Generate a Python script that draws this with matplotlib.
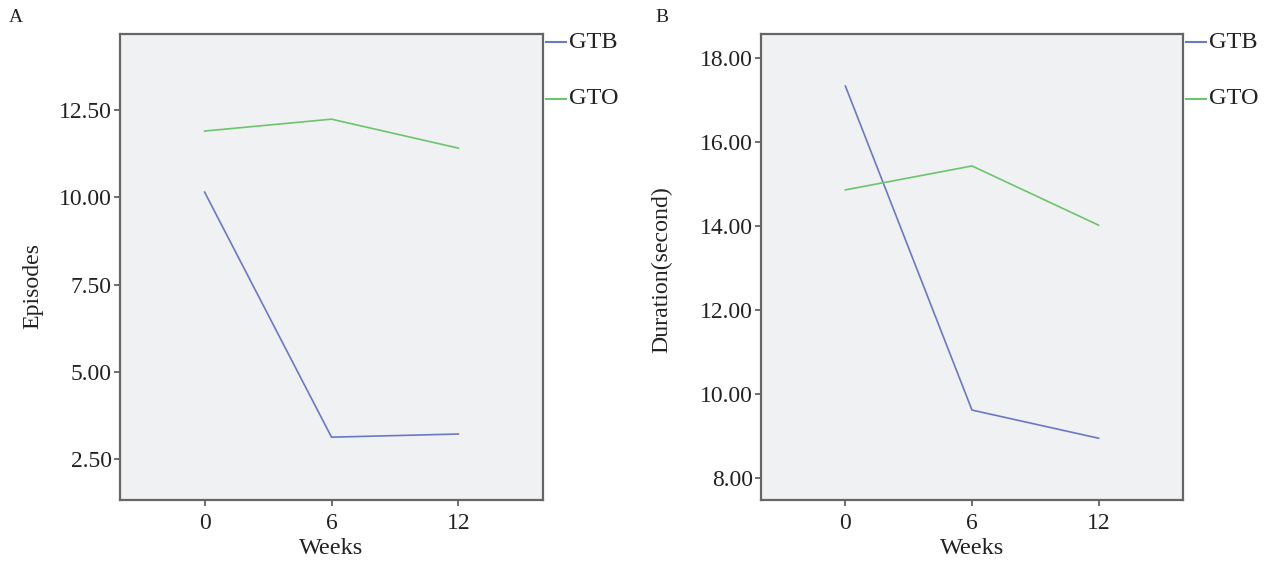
import matplotlib
matplotlib.use("Agg")
import matplotlib.pyplot as plt
from matplotlib.lines import Line2D
from matplotlib.transforms import blended_transform_factory

weeks = [0, 6, 12]
week_labels = ["0", "6", "12"]
series = ["GTB", "GTO"]
episodes_gtb = [10.15, 3.13, 3.22]
episodes_gto = [11.90, 12.24, 11.41]
duration_gtb = [17.33, 9.62, 8.95]
duration_gto = [14.86, 15.43, 14.02]
yticks_a = [2.5, 5.0, 7.5, 10.0, 12.5]
yticks_b = [8.0, 10.0, 12.0, 14.0, 16.0, 18.0]

plt.rcParams['font.family'] = ['Liberation Serif', 'DejaVu Serif']
colors = {"GTB": "#6a78c6", "GTO": "#6cc46e"}

W, H = 1266, 562
fig = plt.figure(figsize=(W / 100, H / 100), dpi=100)

def px_axes(l, t, r, b):
    return fig.add_axes([l / W, 1 - b / H, (r - l) / W, (b - t) / H])

axA = px_axes(120, 34, 543, 500)
axB = px_axes(761, 34, 1183, 500)

panels = [
    (axA, episodes_gtb, episodes_gto, yticks_a, (1.33, 14.68), "Episodes", "A", 9, 33, 286),
    (axB, duration_gtb, duration_gto, yticks_b, (7.48, 18.57), "Duration(second)", "B", 655, 662, 270),
]

for ax, gtb, gto, yt, ylim, ylabel, letter, lx, ylx, yly in panels:
    ax.set_facecolor("#f0f1f2")
    ax.plot(weeks, gtb, color=colors["GTB"], lw=1.2)
    ax.plot(weeks, gto, color=colors["GTO"], lw=1.2)
    ax.set_xlim(-4, 16)
    ax.set_ylim(*ylim)
    ax.set_xticks(weeks)
    ax.set_xticklabels(week_labels)
    ax.set_yticks(yt)
    ax.set_yticklabels([f"{v:.2f}" for v in yt])
    ax.tick_params(direction="out", length=4.5, width=1.2, color="#555555",
                   labelsize=17, labelcolor="#222222", pad=1.5)
    ax.tick_params(axis="x", pad=5)
    for s in ax.spines.values():
        s.set_color("#666666")
        s.set_linewidth(1.6)
    ax.set_xlabel("Weeks", fontsize=17.5, color="#222222")
    ax.xaxis.set_label_coords(0.5, 1 - 548 / H,
                              transform=blended_transform_factory(ax.transAxes, fig.transFigure))
    ax.xaxis.label.set_va("center")
    ax.set_ylabel(ylabel, fontsize=17.2, color="#222222")
    ax.yaxis.set_label_coords(ylx / W, 1 - yly / H, transform=fig.transFigure)
    ax.yaxis.label.set_va("center")
    fig.text(lx / W, 1 - 18 / H, letter, fontsize=14, color="#222222", va="center", ha="left")
    for name, yy in zip(series, [42, 99]):
        yf = 1 - yy / H
        x0 = ax.get_position().x1 + 3 / W
        fig.add_artist(Line2D([x0, x0 + 20 / W], [yf, yf], color=colors[name], lw=1.5,
                              transform=fig.transFigure))
        fig.text(x0 + 23 / W, yf, name, fontsize=17.5, color="#222222", va="center", ha="left")

fig.savefig("out.png", dpi=100, facecolor="white")
